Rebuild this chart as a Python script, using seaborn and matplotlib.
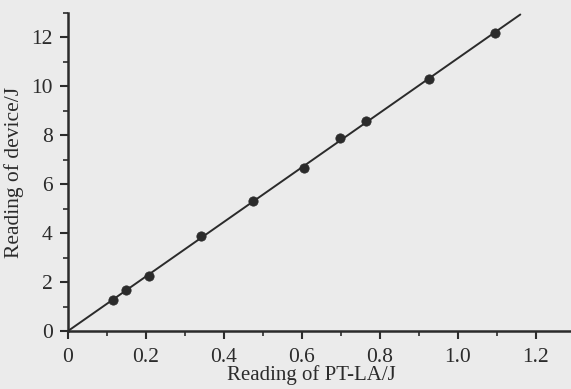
import numpy as np
import pandas as pd
import matplotlib
matplotlib.use("Agg")
import matplotlib.pyplot as plt
import seaborn as sns
from matplotlib.ticker import MultipleLocator

# Data
pt_la = [0.115, 0.149, 0.208, 0.34, 0.474, 0.605, 0.697, 0.764, 0.926, 1.095]
device = [1.27, 1.67, 2.24, 3.88, 5.30, 6.65, 7.88, 8.57, 10.29, 12.16]
x_ticks = [0, 0.2, 0.4, 0.6, 0.8, 1.0, 1.2]
x_tick_labels = ["0", "0.2", "0.4", "0.6", "0.8", "1.0", "1.2"]
y_ticks = [0, 2, 4, 6, 8, 10, 12]
x_label = "Reading of PT-LA/J"
y_label = "Reading of device/J"
fit_x_end = 1.16

sns.set_style("ticks")
plt.rcParams['font.family'] = ['Liberation Serif', 'DejaVu Serif']

df = pd.DataFrame({"x": pt_la, "y": device})
slope = float(np.sum(np.array(pt_la) * np.array(device)) / np.sum(np.array(pt_la) ** 2))
fit = pd.DataFrame({"x": [0.0, fit_x_end]})
fit["y"] = slope * fit["x"]

bg = "#ebebeb"
ink = "#2b2b2b"
fig = plt.figure(figsize=(5.71, 3.89), dpi=100, facecolor=bg)
ax = fig.add_axes([0.119, 0.149, 0.881, 0.818])
ax.set_facecolor(bg)

sns.lineplot(data=fit, x="x", y="y", ax=ax, color=ink, linewidth=1.4)
sns.scatterplot(data=df, x="x", y="y", ax=ax, color=ink, s=45, edgecolor=ink, zorder=3)

ax.set_xlim(0, 1.29)
ax.set_ylim(0, 13.0)
ax.set_xticks(x_ticks)
ax.set_xticklabels(x_tick_labels)
ax.set_yticks(y_ticks)
ax.xaxis.set_minor_locator(MultipleLocator(0.1))
ax.yaxis.set_minor_locator(MultipleLocator(1))
ax.tick_params(axis="both", which="major", length=6, width=1.5, colors=ink, labelsize=15.5, labelcolor=ink)
ax.tick_params(axis="x", which="major", pad=6)
ax.tick_params(axis="y", which="major", pad=5)
ax.tick_params(axis="both", which="minor", length=3.5, width=1.2, colors=ink)
for s in ["top", "right"]:
    ax.spines[s].set_visible(False)
for s in ["left", "bottom"]:
    ax.spines[s].set_linewidth(1.8)
    ax.spines[s].set_color(ink)
ax.set_xlabel(x_label, fontsize=15, color=ink)
ax.set_ylabel(y_label, fontsize=15.5, color=ink, labelpad=5)
ax.xaxis.set_label_coords((311 - 68) / (571 - 68), -(365 - 331) / 318)

fig.savefig("out.png", dpi=100, facecolor=bg)
